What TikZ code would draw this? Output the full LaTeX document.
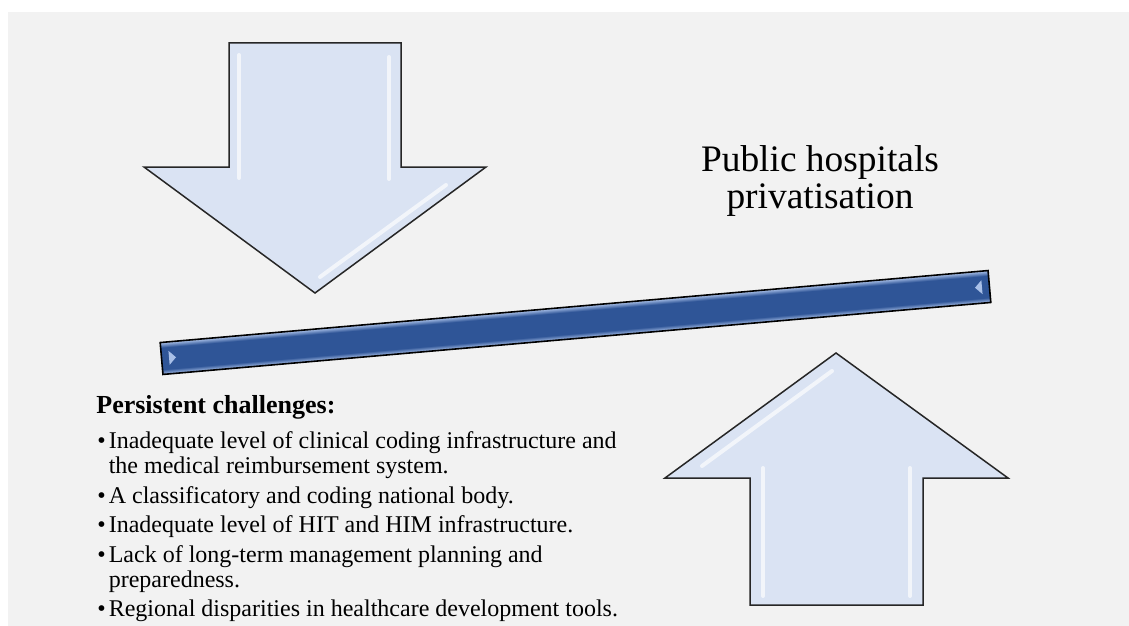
\documentclass[tikz,border=0pt]{standalone}
\usepackage{fontspec}
\setmainfont{Liberation Serif}
\definecolor{paper}{HTML}{F2F2F2}
\definecolor{arrowfill}{HTML}{DAE3F3}
\definecolor{beamdark}{HTML}{2F5597}
\definecolor{beamlight}{HTML}{A9C0E8}
\pgfdeclareverticalshading{beamshade}{100bp}{color(0bp)=(beamlight); color(25bp)=(beamlight); color(33bp)=(beamdark); color(67bp)=(beamdark); color(75bp)=(beamlight); color(100bp)=(beamlight)}
\begin{document}
\begin{tikzpicture}
		[	x=0.5pt, y=-0.5pt,
		bigarrow/.style={draw=black!85, line width=0.75pt, fill=arrowfill, line join=miter},
		shine/.style={draw=white, line width=2pt, line cap=round, opacity=0.65},
		beam/.style={draw=black, line width=0.8pt, shading=beamshade},
		heading/.style={align=center, font=\fontsize{18.7}{18.5}\selectfont},
		listhead/.style={anchor=base west, inner sep=0pt, font=\bfseries\fontsize{13}{15}\selectfont},
		listbody/.style={anchor=north west, inner sep=0pt, font=\fontsize{12}{12.5}\selectfont}
		]
		\useasboundingbox (0,0) rectangle (1129,626);
		\fill[paper] (8,12) rectangle (1129,626);
		% arrow pressing down
		\draw[bigarrow] (229,43) -- (401,43) -- (401,167) -- (486,167) -- (315,293) -- (144,167) -- (229,167) -- cycle;
		\draw[shine] (239,55) -- (239,178);
		\draw[shine] (389,57) -- (389,179);
		\draw[shine] (446,185) -- (320,277);
		% arrow pushing up
		\draw[bigarrow] (836,353) -- (1008,478) -- (923,478) -- (923,605) -- (750,605) -- (750,478) -- (665,478) -- cycle;
		\draw[shine] (763,468) -- (763,596);
		\draw[shine] (910,468) -- (910,596);
		\draw[shine] (702,466) -- (832,371);
		% the tilted beam
		\begin{scope}[transform canvas={shift={(575.5,322.5)}, rotate=4.97}]
			\shade[beam] (-415.5,-16) rectangle (415.5,16);
			\fill[beamlight] (-408,-7) -- (-401,0) -- (-408,7) -- cycle;
			\fill[beamlight] (408,-7) -- (401,0) -- (408,7) -- cycle;
		\end{scope}
\node[heading] (topic) at (820,181){Public hospitals\\privatisation};
\node[listhead] (challenges) at (96,413){Persistent challenges:};
\node[listbody] (issues) at (97,431){%
\begin{tabular}{@{}l@{\hspace{1.5pt}}l@{}}
\textbullet & Inadequate level of clinical coding infrastructure and\\
 & the medical reimbursement system.\\[2.25pt]
\textbullet & A classificatory and coding national body.\\[2.25pt]
\textbullet & Inadequate level of HIT and HIM infrastructure.\\[2.25pt]
\textbullet & Lack of long-term management planning and\\
 & preparedness.\\[2.25pt]
\textbullet & Regional disparities in healthcare development tools.
\end{tabular}};
\end{tikzpicture}
\end{document}
